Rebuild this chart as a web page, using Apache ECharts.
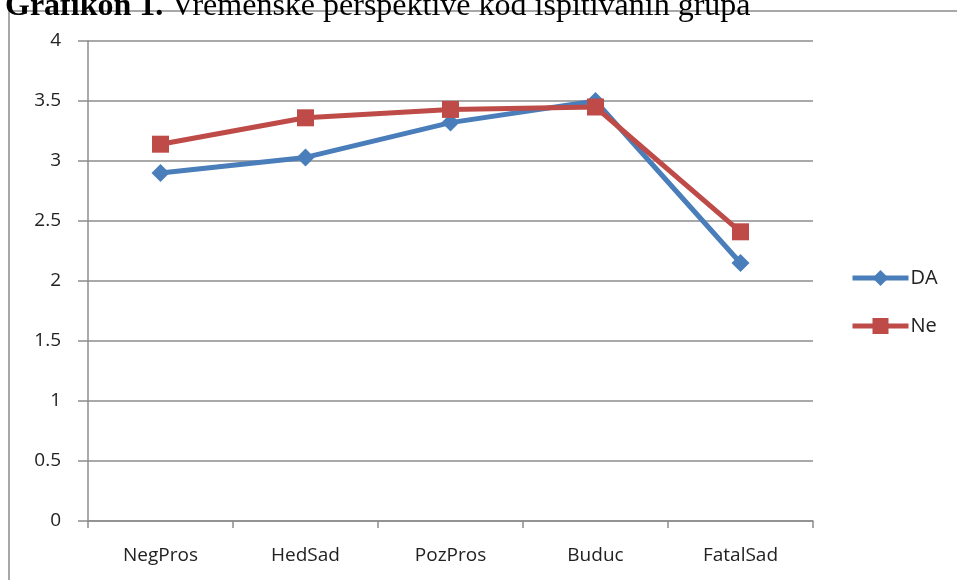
<!DOCTYPE html>
<html>
<head>
<meta charset="utf-8">
<script src="https://cdn.jsdelivr.net/npm/echarts@6/dist/echarts.min.js"></script>
<style>
html,body{margin:0;padding:0;background:#fff;}
#chart{width:957px;height:580px;}
</style>
</head>
<body>
<div id="chart"></div>
<script>
'use strict'

// kategorije i vrijednosti
var categories = ['NegPros', 'HedSad', 'PozPros', 'Buduc', 'FatalSad'];
var daValues = [2.90, 3.03, 3.32, 3.50, 2.15];
var neValues = [3.14, 3.36, 3.43, 3.45, 2.41];
var yTicks = [0, 0.5, 1, 1.5, 2, 2.5, 3, 3.5, 4];

var labelFont = 'Open Sans, Lato, sans-serif';
var chart = echarts.init(document.getElementById('chart'));

chart.setOption({
    backgroundColor: '#fff',
    animation: false,
    graphic: [
        {
            type: 'rect',
            z: -10,
            shape: { x: 9, y: 11, width: 1200, height: 1200 },
            style: { fill: 'none', stroke: '#8c8c8c', lineWidth: 1.5 }
        },
        {
            type: 'text',
            left: 5,
            top: -9,
            style: {
                text: '{b|Grafikon 1.} Vremenske perspektive kod ispitivanih grupa',
                font: '32px "Liberation Serif", serif',
                fill: '#000',
                rich: {
                    b: { font: 'bold 32px "Liberation Serif", serif', fill: '#000' }
                }
            }
        }
    ],
    legend: {
        orient: 'vertical',
        left: 845,
        top: 263,
        itemWidth: 56,
        itemHeight: 20,
        itemGap: 28,
        lineStyle: { width: 5 },
        textStyle: { fontSize: 20, color: '#222', fontFamily: labelFont, padding: [0, 0, 0, -3] },
        data: ['DA', 'Ne']
    },
    grid: { left: 88, right: 144, top: 41, bottom: 59 },
    xAxis: {
        type: 'category',
        data: categories,
        boundaryGap: true,
        axisLine: { lineStyle: { color: '#8c8c8c', width: 1.5 } },
        axisTick: { show: true, length: 7, interval: 0, lineStyle: { color: '#8c8c8c', width: 1.5 } },
        axisLabel: { margin: 25, fontSize: 19, color: '#222', fontFamily: labelFont }
    },
    yAxis: {
        type: 'value',
        min: 0,
        max: 4,
        interval: 0.5,
        axisLine: { show: true, lineStyle: { color: '#8c8c8c', width: 1.5 } },
        axisTick: { show: true, length: 10, lineStyle: { color: '#8c8c8c', width: 1.5 } },
        axisLabel: {
            margin: 27, fontSize: 19, color: '#222', fontFamily: labelFont,
            formatter: function (v) { return yTicks.indexOf(v) >= 0 ? String(v) : ''; }
        },
        splitLine: { lineStyle: { color: '#8c8c8c', width: 1.5 } }
    },
    series: [
        {
            name: 'DA',
            type: 'line',
            data: daValues,
            symbol: 'diamond',
            symbolSize: 18,
            itemStyle: { color: '#4a7ebb' },
            lineStyle: { color: '#4a7ebb', width: 5 }
        },
        {
            name: 'Ne',
            type: 'line',
            data: neValues,
            symbol: 'rect',
            symbolSize: 17,
            itemStyle: { color: '#be4b48' },
            lineStyle: { color: '#be4b48', width: 5 }
        }
    ]
});
</script>
</body>
</html>
